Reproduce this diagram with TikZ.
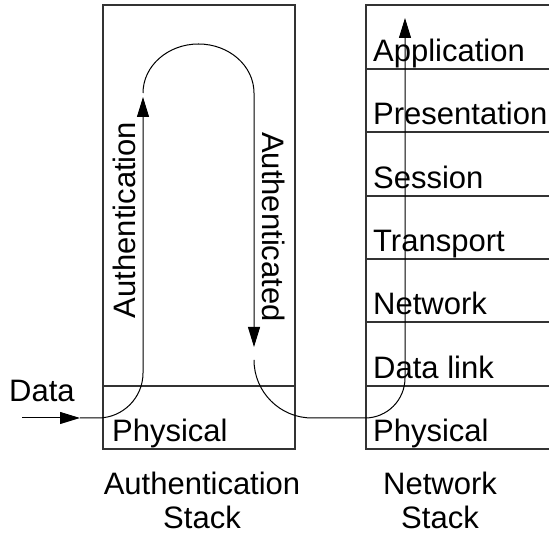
\documentclass[tikz,border=0pt]{standalone}
\usepackage{fontspec}
\setmainfont{Liberation Sans}
\usetikzlibrary{arrows.meta}
\begin{document}
\begin{tikzpicture}[x=1pt,y=1pt,
  frame/.style={draw=black!80, line width=1.3pt},
  flow/.style={draw=black, line width=1pt, -{Triangle[length=20pt,width=12pt]}},
  lbl/.style={font=\fontsize{31}{34}\selectfont, inner sep=0pt},
]
\useasboundingbox (0,0) rectangle (549,534);
\fill[white] (0,0) rectangle (549,534);

% authentication stack
\draw[frame] (103,529) rectangle (295,85);
\draw[frame] (103,148) -- (295,148);

% network stack, open on the right
\draw[frame] (549,529) -- (366,529) -- (366,85) -- (549,85);
\foreach \y in {465,402,338,275,212,148}
  \draw[frame] (366,\y) -- (549,\y);

% layer names
\node[lbl, anchor=base west] (app)  at (373,472) {Application};
\node[lbl, anchor=base west] (pres) at (373,409) {Presentation};
\node[lbl, anchor=base west] (sess) at (373,345) {Session};
\node[lbl, anchor=base west] (trans) at (373,282) {Transport};
\node[lbl, anchor=base west] (net)  at (373,219) {Network};
\node[lbl, anchor=base west] (dl)   at (373,155) {Data link};
\node[lbl, anchor=base west] (phyR) at (373,92) {Physical};
\node[lbl, anchor=base west] (phyL) at (112,92) {Physical};

\node[lbl, anchor=base west] (data) at (9,132) {Data};
\node[lbl, rotate=90, anchor=base] (authing) at (135,314) {Authentication};
\node[lbl, rotate=-90, anchor=base] (authed) at (262,307) {Authenticated};

\node[lbl, align=center, anchor=north] (authstack) at (202,62) {Authentication\\Stack};
\node[lbl, align=center, anchor=north] (netstack) at (440,62) {Network\\Stack};

% data path
\coordinate (in) at (22,116);
\coordinate (inTip) at (80,116);
\coordinate (upTip) at (143,437);
\coordinate (downTip) at (254,187);
\coordinate (outTip) at (405,516);

\draw[flow] (in) -- (inTip);
\draw[flow] (inTip) -- ++(18,0) arc[start angle=-90,end angle=0,radius=45] -- (upTip);
\draw[flow] (upTip) ++(0,4) arc[start angle=180,end angle=0,x radius=55.5,y radius=49] -- (downTip);
\draw[flow] (downTip) ++(0,-13) arc[start angle=180,end angle=270,radius=58]
  -- (365,116) arc[start angle=-90,end angle=0,radius=40] -- (outTip);
\end{tikzpicture}
\end{document}
